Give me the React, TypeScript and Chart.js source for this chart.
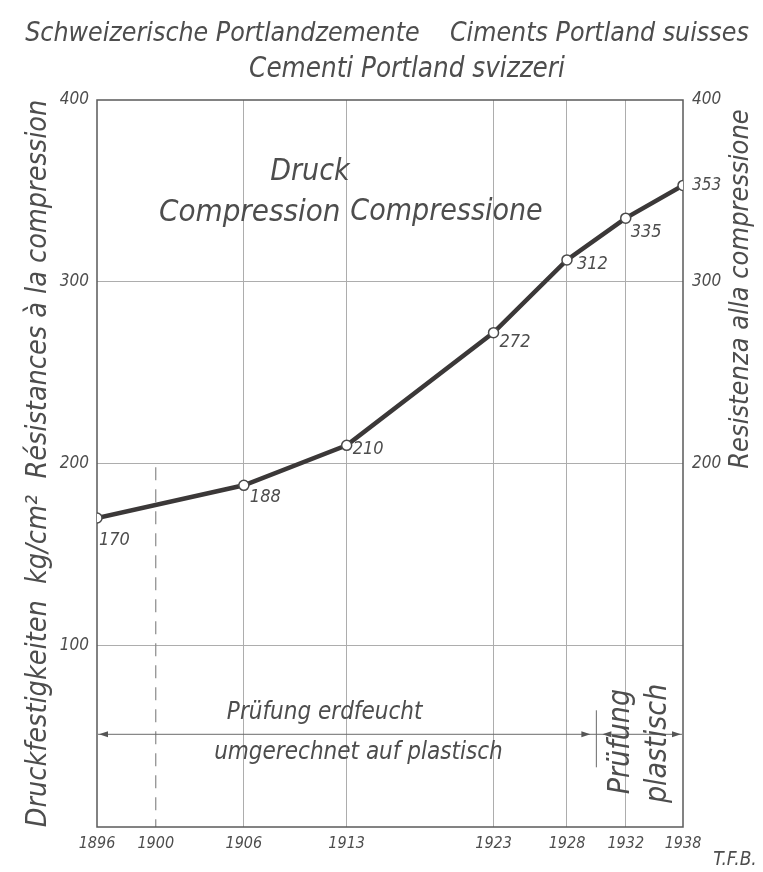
import React, { useEffect, useRef } from 'react';
import { Chart, registerables, LinearScale } from 'chart.js';

// ---- data ----
const YEAR_TICKS = [1896, 1900, 1906, 1913, 1923, 1928, 1932, 1938];
const YEARS = [1896, 1906, 1913, 1923, 1928, 1932, 1938];
const STRENGTH = [170, 188, 210, 272, 312, 335, 353];
const LEFT_TICKS = [0, 100, 200, 300, 400];
const RIGHT_TICKS = [200, 300, 353, 400];
const TITLE_LINES = [
  'Schweizerische Portlandzemente    Ciments Portland suisses',
  'Cementi Portland svizzeri',
];
const LEFT_TITLE = 'Druckfestigkeiten  kg/cm²  Résistances à la compression';
const RIGHT_TITLE = 'Resistenza alla compressione';
const MID_TEXTS = ['Druck', 'Compression', 'Compressione'];
const TEST_TEXTS = ['Prüfung erdfeucht', 'umgerechnet auf plastisch', 'Prüfung', 'plastisch'];
const TEST_SPLIT_YEAR = 1930;
const DASHED_YEAR = 1900;
const CREDIT = 'T.F.B.';

// ---- style ----
const FONT = "'Liberation Sans Narrow', 'DejaVu Sans Condensed', 'Liberation Sans', sans-serif";
const TEXT = '#4d4d4d';
const GRID = '#adadad';
const FRAME = '#5a5a5a';
const LINE = '#3b3838';
// label offsets (px) for the point value labels
const LABEL_OFFSETS: ([number, number] | null)[] = [[2, 22], [6, 12], [6, 4], [6, 10], [10, 4], [5, 14], null];

// year axis where the last segment (after 1932) is drawn compressed, as in the original drawing
const WARP_FROM = 1932;
const WARP_FACTOR = 0.65;
const warp = (v: number) => (v <= WARP_FROM ? v : WARP_FROM + (v - WARP_FROM) * WARP_FACTOR);
const unwarp = (w: number) => (w <= WARP_FROM ? w : WARP_FROM + (w - WARP_FROM) / WARP_FACTOR);

class WarpYearScale extends LinearScale {
  static id = 'warpyear';
  static defaults = { ...(LinearScale as any).defaults };
  getPixelForValue(value: any) {
    if (value === null || value === undefined || isNaN(value)) return NaN;
    const a = warp((this as any).min), b = warp((this as any).max);
    return (this as any).getPixelForDecimal((warp(value) - a) / (b - a));
  }
  getValueForPixel(pixel: number) {
    const a = warp((this as any).min), b = warp((this as any).max);
    return unwarp(a + (this as any).getDecimalForPixel(pixel) * (b - a));
  }
}

Chart.register(...registerables, WarpYearScale as any);

function drawText(ctx: CanvasRenderingContext2D, s: string, x: number, y: number, size: number, rot = 0, align: CanvasTextAlign = 'center') {
  ctx.save();
  ctx.translate(x, y);
  ctx.rotate(rot);
  ctx.font = `italic ${size}px ${FONT}`;
  ctx.fillStyle = TEXT;
  ctx.textAlign = align;
  ctx.textBaseline = 'middle';
  ctx.fillText(s, 0, 0);
  ctx.restore();
}

function arrowHead(ctx: CanvasRenderingContext2D, x: number, y: number, dir: number) {
  ctx.beginPath();
  ctx.moveTo(x, y);
  ctx.lineTo(x - dir * 9, y - 3);
  ctx.lineTo(x - dir * 9, y + 3);
  ctx.closePath();
  ctx.fill();
}

const decor = {
  id: 'decor',
  beforeDatasetsDraw(chart: any) {
    const { ctx, chartArea: a, scales } = chart;
    const x = scales.x, y = scales.y;
    ctx.save();
    // dashed line at 1900
    ctx.strokeStyle = '#8a8a8a';
    ctx.lineWidth = 1.2;
    ctx.setLineDash([13, 9]);
    const xd = x.getPixelForValue(DASHED_YEAR);
    ctx.beginPath();
    ctx.moveTo(xd, y.getPixelForValue(198));
    ctx.lineTo(xd, a.bottom);
    ctx.stroke();
    ctx.setLineDash([]);
    // frame
    ctx.strokeStyle = FRAME;
    ctx.lineWidth = 1.5;
    ctx.strokeRect(a.left, a.top, a.right - a.left, a.bottom - a.top);
    ctx.restore();
  },
  afterDatasetsDraw(chart: any) {
    const { ctx, chartArea: a, scales } = chart;
    const x = scales.x, y = scales.y;
    const meta = chart.getDatasetMeta(0);
    ctx.save();
    // title
    drawText(ctx, TITLE_LINES[0], 387, 34, 26.5);
    drawText(ctx, TITLE_LINES[1], 407, 70, 27.5);
    // value labels
    meta.data.forEach((pt: any, i: number) => {
      const off = LABEL_OFFSETS[i];
      if (!off) return;
      drawText(ctx, String(STRENGTH[i]), pt.x + off[0], pt.y + off[1], 18, 0, 'left');
    });
    // middle texts
    drawText(ctx, MID_TEXTS[0], x.getPixelForValue(1910.5), y.getPixelForValue(360), 30);
    drawText(ctx, MID_TEXTS[1], x.getPixelForValue(1906.4), y.getPixelForValue(338), 31);
    drawText(ctx, MID_TEXTS[2], x.getPixelForValue(1919.8), y.getPixelForValue(338), 30);
    // test method annotation
    const ya = y.getPixelForValue(51);
    const xs = x.getPixelForValue(TEST_SPLIT_YEAR);
    ctx.strokeStyle = '#6a6a6a';
    ctx.fillStyle = '#555';
    ctx.lineWidth = 1;
    ctx.beginPath();
    ctx.moveTo(a.left + 1, ya);
    ctx.lineTo(a.right - 1, ya);
    ctx.stroke();
    arrowHead(ctx, a.left + 2, ya, -1);
    arrowHead(ctx, xs - 6, ya, 1);
    arrowHead(ctx, xs + 6, ya, -1);
    arrowHead(ctx, a.right - 2, ya, 1);
    ctx.beginPath();
    ctx.moveTo(xs, ya - 24);
    ctx.lineTo(xs, ya + 33);
    ctx.stroke();
    drawText(ctx, TEST_TEXTS[0], x.getPixelForValue(1911.5), y.getPixelForValue(63), 24);
    drawText(ctx, TEST_TEXTS[1], x.getPixelForValue(1913.8), y.getPixelForValue(41), 24);
    drawText(ctx, TEST_TEXTS[2], x.getPixelForValue(1931.7), y.getPixelForValue(47), 30, -Math.PI / 2);
    drawText(ctx, TEST_TEXTS[3], x.getPixelForValue(1935.4), y.getPixelForValue(46), 30, -Math.PI / 2);
    // right axis title
    drawText(ctx, RIGHT_TITLE, 741, y.getPixelForValue(296), 27, -Math.PI / 2);
    // credit
    drawText(ctx, CREDIT, 735, 860, 19);
    ctx.restore();
  },
};

export default function App() {
  const ref = useRef<HTMLCanvasElement>(null);
  useEffect(() => {
    const canvas = ref.current;
    if (!canvas) return;
    const tickFont = (size: number) => ({ family: FONT, size, style: 'italic' as const });
    const chart = new Chart(canvas, {
      type: 'line',
      data: {
        datasets: [
          {
            data: YEARS.map((yr, i) => ({ x: yr, y: STRENGTH[i] })),
            borderColor: LINE,
            borderWidth: 4.5,
            tension: 0,
            pointRadius: 5,
            pointBackgroundColor: '#ffffff',
            pointBorderColor: '#4a4a4a',
            pointBorderWidth: 1.5,
          },
        ],
      },
      options: {
        responsive: false,
        devicePixelRatio: 1,
        animation: false,
        layout: { padding: { top: 100, left: 0, right: 0, bottom: 0 } },
        plugins: {
          legend: { display: false },
          tooltip: { enabled: false },
          title: { display: false },
        },
        scales: {
          x: {
            type: 'warpyear' as any,
            min: 1896,
            max: 1938,
            afterBuildTicks: (s: any) => { s.ticks = YEAR_TICKS.map((v) => ({ value: v })); },
            afterFit: (s: any) => { s.height = 45; },
            ticks: {
              autoSkip: false,
              maxRotation: 0,
              padding: 7,
              color: TEXT,
              font: tickFont(16),
              callback: (v: any) => String(v),
            },
            grid: {
              drawTicks: false,
              color: (c: any) => (c.tick && (c.tick.value === DASHED_YEAR || c.tick.value === 1896 || c.tick.value === 1938) ? 'rgba(0,0,0,0)' : GRID),
              lineWidth: 1,
            },
            border: { display: false },
          } as any,
          y: {
            type: 'linear',
            position: 'left',
            min: 0,
            max: 400,
            afterBuildTicks: (s: any) => { s.ticks = LEFT_TICKS.map((v) => ({ value: v })); },
            afterFit: (s: any) => { s.width = 97; },
            ticks: {
              padding: 8,
              color: TEXT,
              font: tickFont(17),
              callback: (v: any) => (v === 0 ? '' : String(v)),
            },
            grid: {
              drawTicks: false,
              color: (c: any) => (c.tick && (c.tick.value === 0 || c.tick.value === 400) ? 'rgba(0,0,0,0)' : GRID),
              lineWidth: 1,
            },
            border: { display: false },
            title: {
              display: true,
              text: LEFT_TITLE,
              color: TEXT,
              font: { family: FONT, size: 28.5, style: 'italic', lineHeight: 1.2 },
              padding: { top: 21, bottom: 0 },
            },
          },
          y2: {
            type: 'linear',
            position: 'right',
            min: 0,
            max: 400,
            afterBuildTicks: (s: any) => { s.ticks = RIGHT_TICKS.map((v) => ({ value: v })); },
            afterFit: (s: any) => { s.width = 80; },
            ticks: {
              padding: 9,
              color: TEXT,
              font: tickFont(17),
              callback: (v: any) => String(v),
            },
            grid: { display: false, drawTicks: false },
            border: { display: false },
          },
        },
      },
      plugins: [decor],
    });
    return () => chart.destroy();
  }, []);
  return (
    <div style={{ position: 'fixed', left: 0, top: 0, width: 763, height: 872, background: '#fff' }}>
      <canvas ref={ref} width={763} height={872} style={{ display: 'block', width: 763, height: 872 }} />
    </div>
  );
}
